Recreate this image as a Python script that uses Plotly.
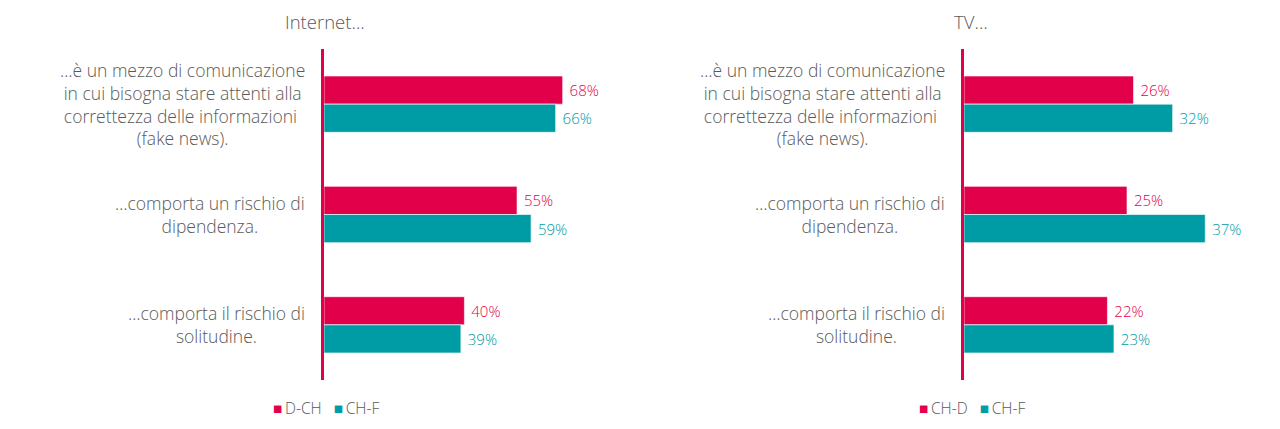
import plotly.graph_objects as go

categories = [
    "…è un mezzo di comunicazione<br>in cui bisogna stare attenti alla<br>correttezza delle informazioni <br>(fake news).",
    "…comporta un rischio di<br>dipendenza.",
    "…comporta il rischio di<br>solitudine.",
]
cat_ids = ["c1", "c2", "c3"]

internet_dch = [68, 55, 40]
internet_chf = [66, 59, 39]
tv_chd = [26, 25, 22]
tv_chf = [32, 37, 23]

panel_titles = ["Internet…", "TV…"]
legend_left = ["D-CH", "CH-F"]
legend_right = ["CH-D", "CH-F"]

RED = "#E3004B"
TEAL = "#009CA6"
GRAY = "#595959"
FONT = "Open Sans"

W, H = 1280, 429

def px_x(p):
    return p / W

def px_y(p):
    return 1 - p / H

fig = go.Figure()

def add_bars(vals, name, color, xa, ya):
    fig.add_trace(go.Bar(
        y=cat_ids, x=vals, name=name, orientation="h",
        marker=dict(color=color, line=dict(color="rgba(255,255,255,0.6)", width=1)),
        text=[f"\u00a0{v}%" for v in vals], textposition="outside",
        textfont=dict(color=color, size=15, family=FONT, weight=300),
        cliponaxis=False, xaxis=xa, yaxis=ya, showlegend=False,
        hoverinfo="skip",
    ))

add_bars(internet_dch, legend_left[0], RED, "x", "y")
add_bars(internet_chf, legend_left[1], TEAL, "x", "y")
add_bars(tv_chd, legend_right[0], RED, "x2", "y2")
add_bars(tv_chf, legend_right[1], TEAL, "x2", "y2")

ydom = [px_y(380), px_y(49)]
yaxis_common = dict(
    domain=ydom, autorange="reversed", showticklabels=False, ticks="",
    showgrid=False, zeroline=False, showline=True, linecolor=RED, linewidth=3,
    type="category",
)

fig.update_layout(
    width=W, height=H,
    margin=dict(l=0, r=0, t=0, b=0),
    paper_bgcolor="white", plot_bgcolor="white",
    barmode="group", bargap=0.49, bargroupgap=0,
    font=dict(family=FONT, color=GRAY),
    xaxis=dict(domain=[px_x(324), px_x(600)], range=[0, 276 / 3.51],
               visible=False, anchor="y"),
    yaxis=dict(anchor="x", **yaxis_common),
    xaxis2=dict(domain=[px_x(964), px_x(1270)], range=[0, 306 / 6.52],
                visible=False, anchor="y2"),
    yaxis2=dict(anchor="x2", **yaxis_common),
    showlegend=False,
)

annotations = []
for xa, ya in (("x", "y"), ("x2", "y2")):
    for cid, lab in zip(cat_ids, categories):
        annotations.append(dict(
            x=0, y=cid, xref=xa, yref=ya, text=lab, showarrow=False,
            xanchor="right", yanchor="middle", align="center", xshift=-17,
            font=dict(size=17.5, color=GRAY, family=FONT, weight=300),
        ))

annotations.append(dict(x=px_x(325), y=px_y(21), xref="paper", yref="paper",
                        text=panel_titles[0], showarrow=False, xanchor="center",
                        yanchor="middle", font=dict(size=18.5, color=GRAY, family=FONT, weight=300)))
annotations.append(dict(x=px_x(971), y=px_y(21), xref="paper", yref="paper",
                        text=panel_titles[1], showarrow=False, xanchor="center",
                        yanchor="middle", font=dict(size=18.5, color=GRAY, family=FONT, weight=300)))

def legend_text(names):
    return (f"<span style='color:{RED}'>■</span>\u2009{names[0]}"
            f"&nbsp;&nbsp;&nbsp;<span style='color:{TEAL}'>■</span>\u2009{names[1]}")

annotations.append(dict(x=px_x(271), y=px_y(408), xref="paper", yref="paper",
                        text=legend_text(legend_left), showarrow=False, xanchor="left",
                        yanchor="middle", font=dict(size=15.5, color=GRAY, family=FONT, weight=300)))
annotations.append(dict(x=px_x(917), y=px_y(408), xref="paper", yref="paper",
                        text=legend_text(legend_right), showarrow=False, xanchor="left",
                        yanchor="middle", font=dict(size=15.5, color=GRAY, family=FONT, weight=300)))

fig.update_layout(annotations=annotations)
fig.write_html("out.html", config={"displayModeBar": False},
               post_script="document.body.style.margin='0';document.body.style.overflow='hidden';")
